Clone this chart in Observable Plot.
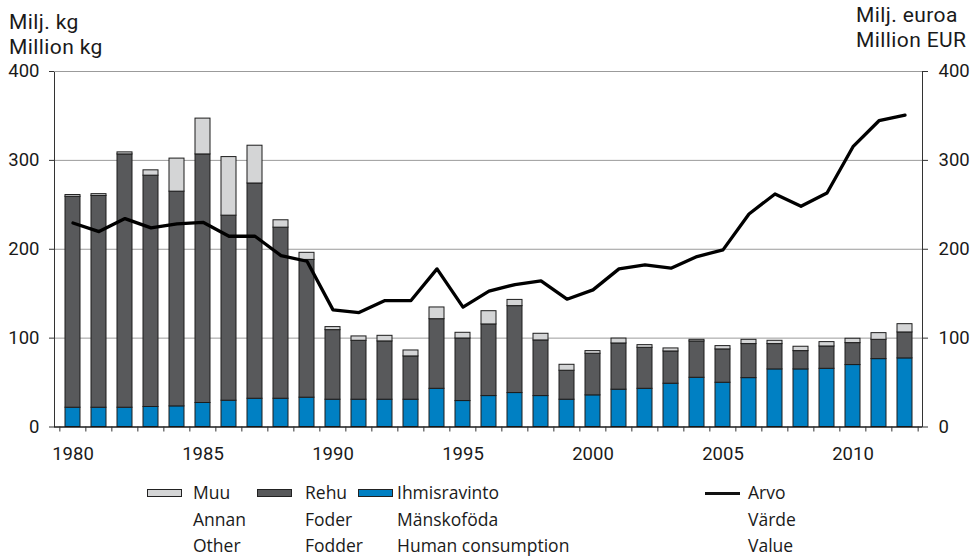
<!DOCTYPE html>
<html>
<head>
<meta charset="utf-8">
<script src="https://cdn.jsdelivr.net/npm/d3@7"></script>
<script src="https://cdn.jsdelivr.net/npm/@observablehq/plot@0.6"></script>
<style>
  html, body { margin: 0; padding: 0; background: #fff; }
  #wrap { position: relative; width: 980px; height: 560px; font-family: "Open Sans", sans-serif; color: #1a1a1a; overflow: hidden; }
  .ttl { position: absolute; font-family: Roboto, "Open Sans", sans-serif; font-size: 21px; letter-spacing: 0.4px; line-height: 25px; white-space: nowrap; }
  .leg { position: absolute; font-size: 17.5px; line-height: 26.5px; white-space: nowrap; top: 479px; }
  .sw { position: absolute; top: 489px; width: 35px; height: 8px; box-sizing: border-box; border: 1px solid #222; }
  .ln { position: absolute; top: 491.5px; width: 35px; height: 3px; background: #111; }
  #chart { position: absolute; left: 0; top: 0; }
</style>
</head>
<body>
<div id="wrap">
  <div id="chart"></div>
  <div class="ttl" style="left:9px; top:9.5px;">Milj. kg<br>Million kg</div>
  <div class="ttl" style="left:856px; top:3px;">Milj. euroa<br>Million EUR</div>
  <div id="legend"></div>
</div>
<script>
const years = d3.range(1980, 2013);
const human = [21.7, 21.7, 21.7, 22.5, 23.2, 27.0, 29.6, 31.8, 31.8, 33.0, 30.7, 30.7, 30.7, 30.7, 43.0, 29.2, 34.8, 38.2, 34.8, 30.7, 35.6, 42.0, 43.0, 48.7, 55.4, 49.8, 55.0, 64.8, 64.8, 65.5, 69.7, 76.4, 77.2];
const fodder = [237.3, 238.3, 285.0, 260.3, 241.6, 279.7, 208.2, 242.2, 192.5, 155.0, 78.3, 66.3, 65.6, 48.7, 78.3, 70.4, 80.6, 97.8, 62.6, 32.6, 46.8, 52.0, 46.1, 36.3, 40.9, 37.5, 38.3, 28.5, 20.6, 25.1, 24.7, 21.7, 29.2];
const other = [2.0, 2.0, 2.3, 6.0, 37.2, 40.3, 65.9, 42.5, 8.3, 8.0, 3.4, 4.9, 6.3, 6.7, 13.2, 6.4, 14.9, 7.0, 7.5, 6.7, 3.0, 5.5, 3.0, 3.4, 1.8, 3.7, 4.8, 3.7, 4.9, 4.9, 4.9, 7.5, 9.3];
const valueEUR = [229.6, 219.9, 234.5, 224.0, 228.5, 230.3, 214.6, 214.6, 192.9, 186.5, 131.8, 128.8, 142.3, 142.3, 177.9, 134.8, 152.8, 160.3, 164.4, 143.8, 154.3, 177.9, 182.4, 178.7, 191.8, 199.3, 239.7, 262.2, 248.3, 263.3, 315.4, 344.6, 350.9];
const yTicks = [0, 100, 200, 300, 400];
const xLabelYears = [1980, 1985, 1990, 1995, 2000, 2005, 2010];

const seriesNames = ["Ihmisravinto", "Rehu", "Muu"];
const seriesColors = ["#0080c3", "#58595b", "#d4d5d6"];
const legendLabels = [
  {key: "Muu", lines: ["Muu", "Annan", "Other"]},
  {key: "Rehu", lines: ["Rehu", "Foder", "Fodder"]},
  {key: "Ihmisravinto", lines: ["Ihmisravinto", "Mänskoföda", "Human consumption"]},
  {key: "Arvo", lines: ["Arvo", "Värde", "Value"]}
];

const stacked = [];
years.forEach((yr, i) => {
  stacked.push({year: yr, series: "Ihmisravinto", value: human[i]});
  stacked.push({year: yr, series: "Rehu", value: fodder[i]});
  stacked.push({year: yr, series: "Muu", value: other[i]});
});
const valueRows = years.map((yr, i) => ({year: yr, value: valueEUR[i]}));

const W = 980, H = 470, mL = 54, mR = 58, mT = 71, mB = 43.5;
const halfStep = (W - mL - mR) / years.length / 2;

const chart = Plot.plot({
  width: W, height: H,
  marginLeft: mL, marginRight: mR, marginTop: mT, marginBottom: mB,
  style: {fontFamily: "Roboto, 'Open Sans', sans-serif", fontSize: "18.5px", color: "#1a1a1a", background: "white"},
  x: {type: "band", domain: years, paddingInner: 0.43, paddingOuter: 0.215, axis: null},
  y: {domain: [0, 400], axis: null},
  color: {domain: seriesNames, range: seriesColors},
  marks: [
    Plot.ruleY(yTicks.filter(d => d > 0), {stroke: "#9b9b9b", strokeWidth: 1}),
    Plot.frame({stroke: "#333"}),
    Plot.ruleY([400], {stroke: "#9b9b9b", strokeWidth: 1}),
    Plot.barY(stacked, {x: "year", y: "value", fill: "series", stroke: "#1c1c1c", strokeWidth: 1}),
    Plot.line(valueRows, {x: "year", y: "value", stroke: "#000", strokeWidth: 3.3}),
    Plot.ruleY([0], {stroke: "#111", strokeWidth: 1.2}),
    Plot.axisY({anchor: "left", ticks: yTicks, tickSize: 5, tickPadding: 10, label: null, stroke: "#333"}),
    Plot.axisY({anchor: "right", ticks: yTicks, tickSize: 5, tickPadding: 11, label: null, stroke: "#333"}),
    Plot.axisX({ticks: xLabelYears, tickSize: 0, tickPadding: 20, label: null, tickFormat: d => String(d)}),
    Plot.axisX({ticks: years, tickSize: 5, tickFormat: () => "", label: null, dx: -halfStep, stroke: "#333"}),
    Plot.axisX({ticks: [years[years.length - 1]], tickSize: 5, tickFormat: () => "", label: null, dx: halfStep, stroke: "#333"})
  ]
});
document.getElementById("chart").appendChild(chart);

// Legend
const legendPos = {Muu: [147, 193], Rehu: [257, 305], Ihmisravinto: [358, 397], Arvo: [705, 748]};
const legend = document.getElementById("legend");
legendLabels.forEach(item => {
  const [sx, tx] = legendPos[item.key];
  if (item.key === "Arvo") {
    const l = document.createElement("div");
    l.className = "ln"; l.style.left = sx + "px";
    legend.appendChild(l);
  } else {
    const s = document.createElement("div");
    s.className = "sw"; s.style.left = sx + "px";
    s.style.background = seriesColors[seriesNames.indexOf(item.key)];
    legend.appendChild(s);
  }
  const t = document.createElement("div");
  t.className = "leg"; t.style.left = tx + "px";
  t.innerHTML = item.lines.join("<br>");
  legend.appendChild(t);
});
</script>
</body>
</html>
